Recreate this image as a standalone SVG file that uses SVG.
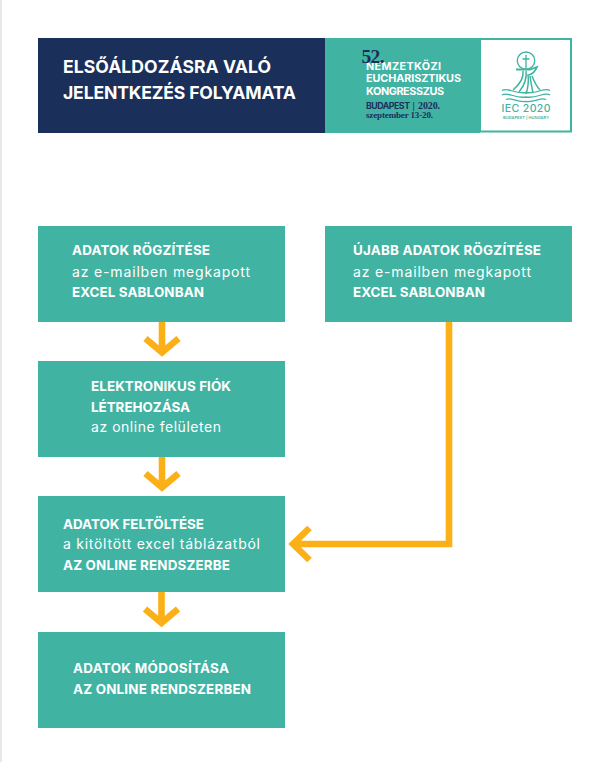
<svg xmlns="http://www.w3.org/2000/svg" width="608" height="762" viewBox="0 0 608 762">
  <style>
    .box { fill: #41b3a2; }
    .b { font: 700 13.4px "Inter", "Liberation Sans", sans-serif; fill: #fff; }
    .r { font: 400 14px "Inter", "Liberation Sans", sans-serif; fill: #fff; }
    .title { font: 700 17.6px "Inter", "Liberation Sans", sans-serif; fill: #fff; }
    .kong { font: 700 10.8px "Inter", "Liberation Sans", sans-serif; fill: #fff; }
    .navy-sans { font: 700 8.8px "Inter", "Liberation Sans", sans-serif; fill: #1b2f5b; }
    .navy-serif { font: 700 10px "Liberation Serif", serif; fill: #1b2f5b; }
    .arrow { fill: none; stroke: #fbb017; stroke-width: 6.6; }
    .logo { fill: none; stroke: #41b3a2; }
  </style>
  <rect width="608" height="762" fill="#fff"/>
  <rect x="0" y="0" width="2" height="762" fill="#e8e8e8"/>

  <g id="header">
    <rect x="38" y="38" width="287" height="95" fill="#1b2f5b"/>
    <rect x="325" y="38" width="155" height="95" class="box"/>
    <text class="title" x="63" y="73" textLength="208">ELSŐÁLDOZÁSRA VALÓ</text>
    <text class="title" x="63" y="99" textLength="233">JELENTKEZÉS FOLYAMATA</text>
    <text class="kong" x="366" y="69.500" textLength="75">NEMZETKÖZI</text>
    <text x="361.500" y="62.500" textLength="23" style="font:700 19.500px 'Liberation Serif',serif;fill:#1b2f5b">52.</text>
    <text class="kong" x="366" y="82" textLength="95">EUCHARISZTIKUS</text>
    <text class="kong" x="366" y="95" textLength="78">KONGRESSZUS</text>
    <text class="navy-sans" y="108.500"><tspan x="366" textLength="44">BUDAPEST</tspan><tspan class="navy-serif" x="412.500">|</tspan><tspan class="navy-serif" x="418" textLength="22">2020.</tspan></text>
    <text class="navy-serif" x="366" y="118" textLength="67" style="font-size:9px">szeptember 13-20.</text>
  </g>

  <g id="logo">
    <rect x="480" y="39" width="91" height="92.500" fill="#fff" stroke="#41b3a2" stroke-width="2"/>
    <circle class="logo" cx="526" cy="60.700" r="8.700" stroke-width="1.400"/>
    <path class="logo" stroke-width="1.300" d="M526 55V69M522.500 59H529.500"/>
    <path class="logo" stroke-width="1.800" d="M516 69.500H530L537 67C535 72 532 74 529 75"/>
    <path class="logo" stroke-width="1.500" d="M523 71C524 78 520 84 513 90M526 71C527 79 524 86 519 92M528 74C529 82 528 88 526 94M530 76C531 83 532 88 533 93M532 76C534 81 536 86 540 90"/>
    <path class="logo" stroke-width="1.300" d="M502 90.500C508 86.500 514 94.500 526 92.500C538 94.500 544 86.500 550 90.500M502 95C508 91 514 99 526 97C538 99 544 91 550 95M506 99.500C511 96.500 516 102.500 526 101.500C536 102.500 541 96.500 546 99.500"/>
    <text x="526" y="112" text-anchor="middle" textLength="49" style="font:500 10.500px 'Inter','Liberation Sans',sans-serif;fill:#41b3a2">IEC 2020</text>
    <text x="526" y="118.500" text-anchor="middle" textLength="46" style="font:600 4px 'Inter','Liberation Sans',sans-serif;fill:#41b3a2">BUDAPEST | HUNGARY</text>
  </g>

  <g id="connectors">
    <path class="arrow" d="M162 322V352M145.500 338.500L162 352.500L178.500 338.500"/>
    <path class="arrow" d="M162 457V487M145.500 473.500L162 487.500L178.500 473.500"/>
    <path class="arrow" d="M161.500 592V622M145 609L161.500 623L178 609"/>
    <path class="arrow" d="M449 322V544H295M309.500 528L293 544L309.500 560"/>
  </g>

  <g id="step-record">
    <rect x="38" y="226" width="247" height="96" class="box"/>
    <text class="b" x="72" y="255" textLength="138">ADATOK RÖGZÍTÉSE</text>
    <text class="r" x="72" y="277" textLength="178">az e-mailben megkapott</text>
    <text class="b" x="72" y="297" textLength="132">EXCEL SABLONBAN</text>
  </g>
  <g id="step-record-again">
    <rect x="325" y="226" width="247" height="96" class="box"/>
    <text class="b" x="353" y="255" textLength="188">ÚJABB ADATOK RÖGZÍTÉSE</text>
    <text class="r" x="353" y="277" textLength="178">az e-mailben megkapott</text>
    <text class="b" x="353" y="297" textLength="132">EXCEL SABLONBAN</text>
  </g>
  <g id="step-account">
    <rect x="38" y="361" width="247" height="96" class="box"/>
    <text class="b" x="91" y="391" textLength="140">ELEKTRONIKUS FIÓK</text>
    <text class="b" x="91" y="412" textLength="99">LÉTREHOZÁSA</text>
    <text class="r" x="91" y="432" textLength="130">az online felületen</text>
  </g>
  <g id="step-upload">
    <rect x="38" y="496" width="247" height="96" class="box"/>
    <text class="b" x="63" y="529" textLength="141">ADATOK FELTÖLTÉSE</text>
    <text class="r" x="63" y="549" textLength="197">a kitöltött excel táblázatból</text>
    <text class="b" x="63" y="570" textLength="167">AZ ONLINE RENDSZERBE</text>
  </g>
  <g id="step-modify">
    <rect x="38" y="632" width="247" height="96" class="box"/>
    <text class="b" x="73" y="673" textLength="156">ADATOK MÓDOSÍTÁSA</text>
    <text class="b" x="73" y="694" textLength="178">AZ ONLINE RENDSZERBEN</text>
  </g>
</svg>
